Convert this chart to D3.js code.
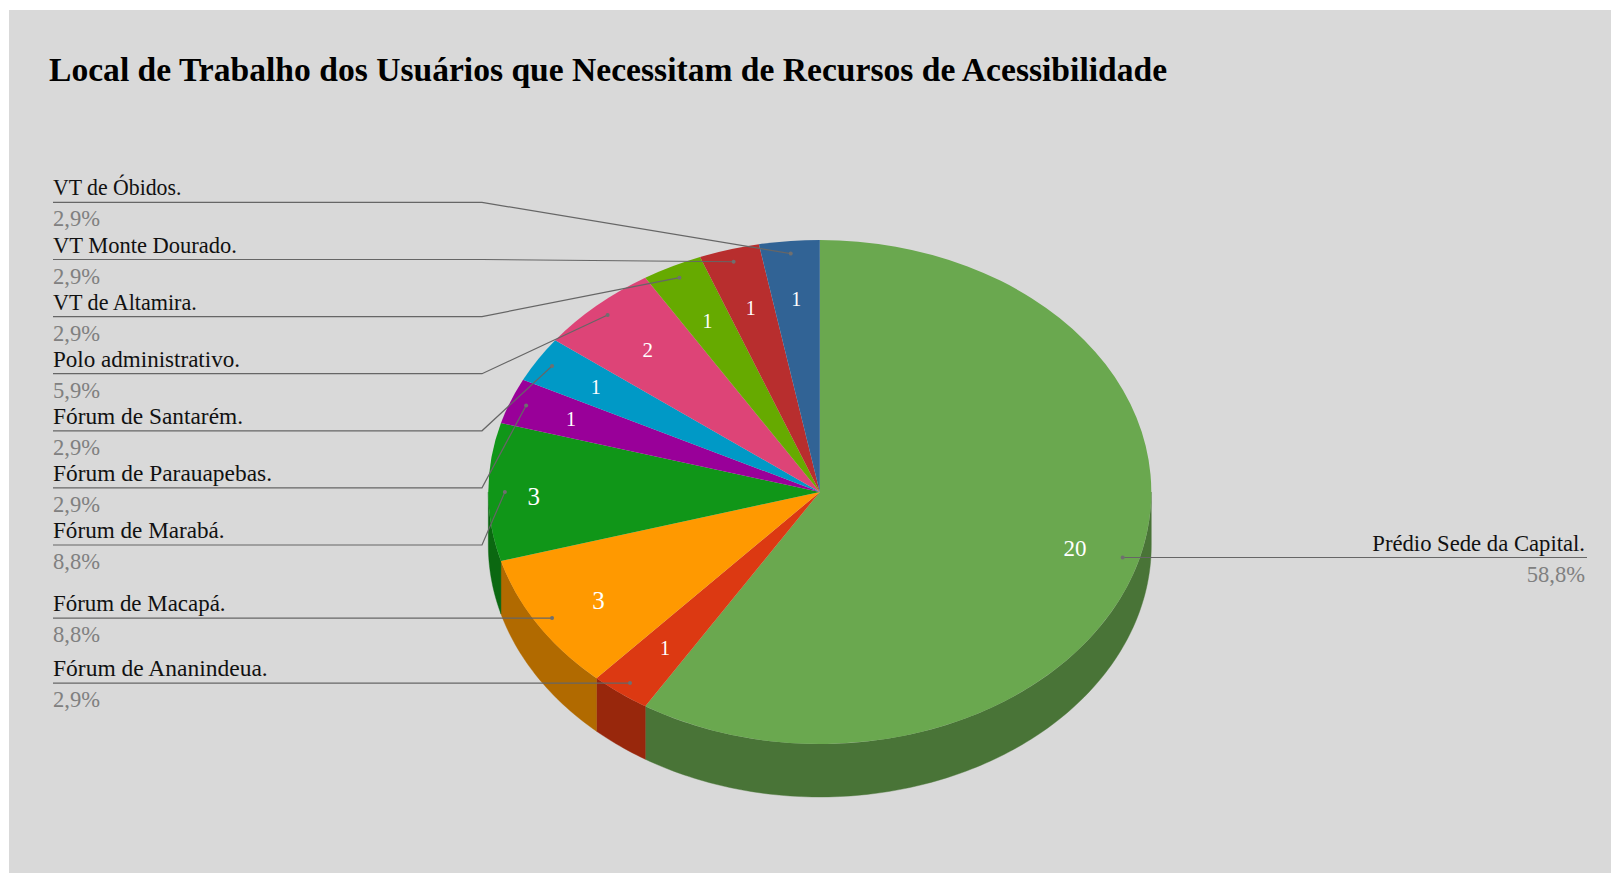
<!DOCTYPE html>
<html><head><meta charset="utf-8">
<style>html,body{margin:0;padding:0;background:#fff}svg{display:block}</style>
<script src="https://cdn.jsdelivr.net/npm/d3@7"></script>
</head><body><svg id="c" width="1611" height="873"></svg>
<script>
const categories=["Prédio Sede da Capital.","Fórum de Ananindeua.","Fórum de Macapá.","Fórum de Marabá.","Fórum de Parauapebas.","Fórum de Santarém.","Polo administrativo.","VT de Altamira.","VT Monte Dourado.","VT de Óbidos."];
const values=[20,1,3,3,1,1,2,1,1,1];
const percentLabels=["58,8%","2,9%","8,8%","8,8%","2,9%","2,9%","5,9%","2,9%","2,9%","2,9%"];
const colors=["#6aa84f","#dc3912","#ff9900","#109618","#990099","#0099c6","#dd4477","#66aa00","#b82e2e","#316395"];

const titleText="Local de Trabalho dos Usuários que Necessitam de Recursos de Acessibilidade";
const W=1611,H=873,cx=819.8,cy=492,rx=331.5,ry=252,depth=53;
const FONT="'Liberation Serif',serif";
const svg=d3.select("#c");
svg.append("rect").attr("x",9).attr("y",10).attr("width",W-9).attr("height",H-10).attr("fill","#d9d9d9");
svg.append("text").attr("x",49).attr("y",81).attr("font-family",FONT).attr("font-weight",700).attr("font-size",33.6).attr("fill","#000").text(titleText);

const pie=d3.pie().sort(null).value(d=>d)(values);
const ex=(a,k=1)=>cx+rx*k*Math.sin(a), ey=(a,k=1)=>cy-ry*k*Math.cos(a);
// side walls: only the front half of the ellipse is visible
const front=[Math.PI/2,3*Math.PI/2];
const wall=d3.line();
const g=svg.append("g");
pie.forEach((p,i)=>{
  const a0=Math.max(p.startAngle,front[0]),a1=Math.min(p.endAngle,front[1]);
  if(a1<=a0)return;
  const n=Math.ceil((a1-a0)*60);
  const t=d3.scaleLinear().domain([0,n]).range([a0,a1]);
  const top=d3.range(n+1).map(j=>[ex(t(j)),ey(t(j))]);
  const bottom=top.map(q=>[q[0],q[1]+depth]).reverse();
  const c=d3.rgb(colors[i]).darker(1.03).formatHex();
  g.append("path").attr("d",wall(top.concat(bottom))+"Z").attr("fill",c).attr("stroke",c).attr("stroke-width",.4);
});
const arc=d3.arc().innerRadius(0).outerRadius(rx);
const topG=svg.append("g").attr("transform",`translate(${cx},${cy}) scale(1,${ry/rx})`);
topG.selectAll("path").data(pie).join("path").attr("d",arc).attr("fill",(d,i)=>colors[i]);

// value labels on slices (layout: radial position per slice, fraction of the radius)
const valueLabelRadius=[.80,.775,.785,.863,.805,.795,.77,.76,.76,.77];
const sizeOf=d3.scaleThreshold().domain([2,3,4]).range([20,21,25,23]);
svg.selectAll("text.v").data(pie).join("text").attr("class","v")
  .attr("x",(d,i)=>ex((d.startAngle+d.endAngle)/2,valueLabelRadius[i])).attr("y",(d,i)=>ey((d.startAngle+d.endAngle)/2,valueLabelRadius[i]))
  .attr("text-anchor","middle").attr("dy",d=>d.value===3?".5em":".38em").attr("font-family",FONT).attr("fill","#fff")
  .attr("font-size",d=>sizeOf(d.value)).text(d=>d.value);

// leader lines + labels (layout: rendered width of each name, the original face is condensed)
const lineStep=57.1, stackBottom=545;
const nameWidths=[212.7,214.7,172.6,171.6,219,190,187,143.8,184,128.4];
const leftFlat={2:1,1:1};
pie.forEach((p,i)=>{
  const mid=(p.startAngle+p.endAngle)/2;
  const ax=ex(mid,.95),ay=ey(mid,.95);
  let pts,tx,anchor;
  if(i===0){pts=[[1587,ay],[ax,ay]];tx=1585;anchor="end";}
  else if(leftFlat[i]){pts=[[53,ay],[ax,ay]];tx=53;anchor="start";}
  else{const ly=stackBottom-(i-3)*lineStep;pts=[[53,ly],[482,ly],[ax,ay]];tx=53;anchor="start";}
  const ly=pts[0][1];
  svg.append("path").attr("d",d3.line()(pts)).attr("fill","none").attr("stroke","#666").attr("stroke-width",1.2);
  svg.append("circle").attr("cx",ax).attr("cy",ay).attr("r",2).attr("fill","#6f6f6f");
  svg.append("text").attr("x",tx).attr("y",ly-7).attr("text-anchor",anchor).attr("font-family",FONT).attr("font-size",24).attr("fill","#111")
    .attr("textLength",nameWidths[i]).attr("lengthAdjust","spacingAndGlyphs").text(categories[i]);
  const pct=svg.append("text").attr("x",tx).attr("y",ly+24).attr("text-anchor",anchor).attr("font-family",FONT).attr("font-size",24).attr("fill","#808080").text(percentLabels[i]);
  pct.attr("textLength",pct.node().getComputedTextLength()*.94).attr("lengthAdjust","spacingAndGlyphs");
});
</script></body></html>
